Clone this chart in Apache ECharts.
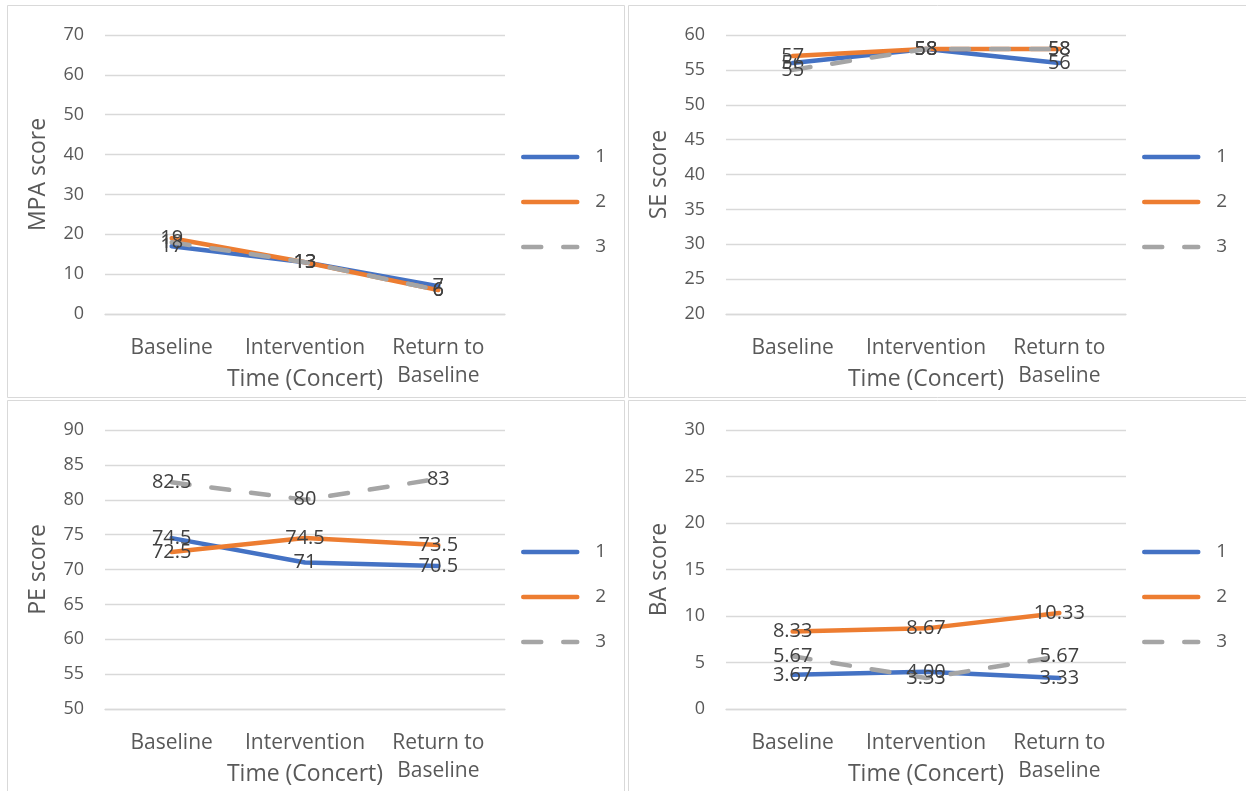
<!DOCTYPE html>
<html>
<head>
<meta charset="utf-8">
<script src="https://cdn.jsdelivr.net/npm/echarts@6/dist/echarts.min.js"></script>
<style>
  html, body { margin: 0; padding: 0; background: #ffffff; }
  #chart { width: 1246px; height: 791px; }
</style>
</head>
<body>
<div id="chart"></div>
<script>
// Time points of the concert study
const categories = ['Baseline', 'Intervention', 'Return to\nBaseline'];
const seriesNames = ['1', '2', '3'];

// MPA score
const mpa1 = [17, 13, 7];
const mpa2 = [19, 13, 6];
const mpa3 = [18, 13, 6];
const mpaTicks = [0, 70, 10];

// SE score
const se1 = [56, 58, 56];
const se2 = [57, 58, 58];
const se3 = [55, 58, 58];
const seTicks = [20, 60, 5];

// PE score
const pe1 = [74.5, 71, 70.5];
const pe2 = [72.5, 74.5, 73.5];
const pe3 = [82.5, 80, 83];
const peTicks = [50, 90, 5];

// BA score
const ba1 = [3.67, 4.00, 3.33];
const ba2 = [8.33, 8.67, 10.33];
const ba3 = [5.67, 3.33, 5.67];
const baTicks = [0, 30, 5];

const FONT = 'Open Sans';
const COLORS = ['#4472C4', '#ED7D31', '#A5A5A5'];

const panels = [
  { name: 'MPA score', data: [mpa1, mpa2, mpa3], ticks: mpaTicks, decimals: null, px: 7,   py: 5 },
  { name: 'SE score',  data: [se1, se2, se3],    ticks: seTicks,  decimals: null, px: 628, py: 5 },
  { name: 'PE score',  data: [pe1, pe2, pe3],    ticks: peTicks,  decimals: null, px: 7,   py: 400 },
  { name: 'BA score',  data: [ba1, ba2, ba3],    ticks: baTicks,  decimals: 2,    px: 628, py: 400 }
];

const grid = [], xAxis = [], yAxis = [], series = [], legend = [], graphic = [];

panels.forEach((p, i) => {
  const gx = p.px + 98, gy = p.py + 30;
  // panel frame
  graphic.push({
    type: 'rect', silent: true, z: -1,
    shape: { x: p.px + 0.5, y: p.py + 0.5, width: (i % 2 === 0 ? 617 : 618), height: 392 },
    style: { fill: '#ffffff', stroke: '#D9D9D9', lineWidth: 1 }
  });
  grid.push({ left: gx, top: gy, width: 400, height: 279 });
  xAxis.push({
    type: 'category', gridIndex: i, data: categories, boundaryGap: true,
    name: 'Time (Concert)', nameLocation: 'middle', nameGap: 54, nameMoveOverlap: false,
    nameTextStyle: { fontFamily: FONT, fontSize: 23, color: '#595959', verticalAlign: 'top' },
    axisLine: { show: true, lineStyle: { color: '#D9D9D9', width: 1.3 } },
    axisTick: { show: false },
    axisLabel: { interval: 0, margin: 20, fontFamily: FONT, fontSize: 21, color: '#595959', lineHeight: 28 }
  });
  yAxis.push({
    type: 'value', gridIndex: i, min: p.ticks[0], max: p.ticks[1], interval: p.ticks[2],
    name: p.name, nameLocation: 'middle', nameGap: 55, nameRotate: 90, nameMoveOverlap: false,
    nameTextStyle: { fontFamily: FONT, fontSize: 23, color: '#595959' },
    axisLine: { show: false }, axisTick: { show: false },
    axisLabel: { margin: 21, fontFamily: FONT, fontSize: 18, color: '#595959' },
    splitLine: { lineStyle: { color: '#D9D9D9', width: 1.3 } }
  });
  p.data.forEach((vals, k) => {
    series.push({
      type: 'line', name: seriesNames[k], xAxisIndex: i, yAxisIndex: i,
      data: vals, symbol: 'circle', symbolSize: 0.1, showSymbol: true, z: 2 + k,
      lineStyle: { color: COLORS[k], width: 4.5, cap: 'round', join: 'round', type: k === 2 ? [18, 22] : 'solid' },
      itemStyle: { color: COLORS[k] },
      label: {
        show: true, position: 'inside', fontFamily: FONT, fontSize: 20, color: '#404040',
        formatter: (d) => p.decimals ? Number(d.value).toFixed(p.decimals) : String(d.value)
      }
    });
  });
  legend.push({
    orient: 'vertical', left: p.px + 514, top: p.py + 142, padding: 0,
    itemWidth: 54, itemHeight: 20, itemGap: 25,
    data: seriesNames, selectedMode: false,
    itemStyle: { opacity: 0 },
    lineStyle: { width: 4.5, cap: 'round' },
    textStyle: { fontFamily: FONT, fontSize: 19, color: '#595959', padding: [0, 0, 0, 13], lineHeight: 20 }
  });
});

const chart = echarts.init(document.getElementById('chart'), null, { renderer: 'canvas' });
chart.setOption({
  backgroundColor: '#ffffff',
  animation: false,
  graphic, grid, xAxis, yAxis, series, legend
});
</script>
</body>
</html>
